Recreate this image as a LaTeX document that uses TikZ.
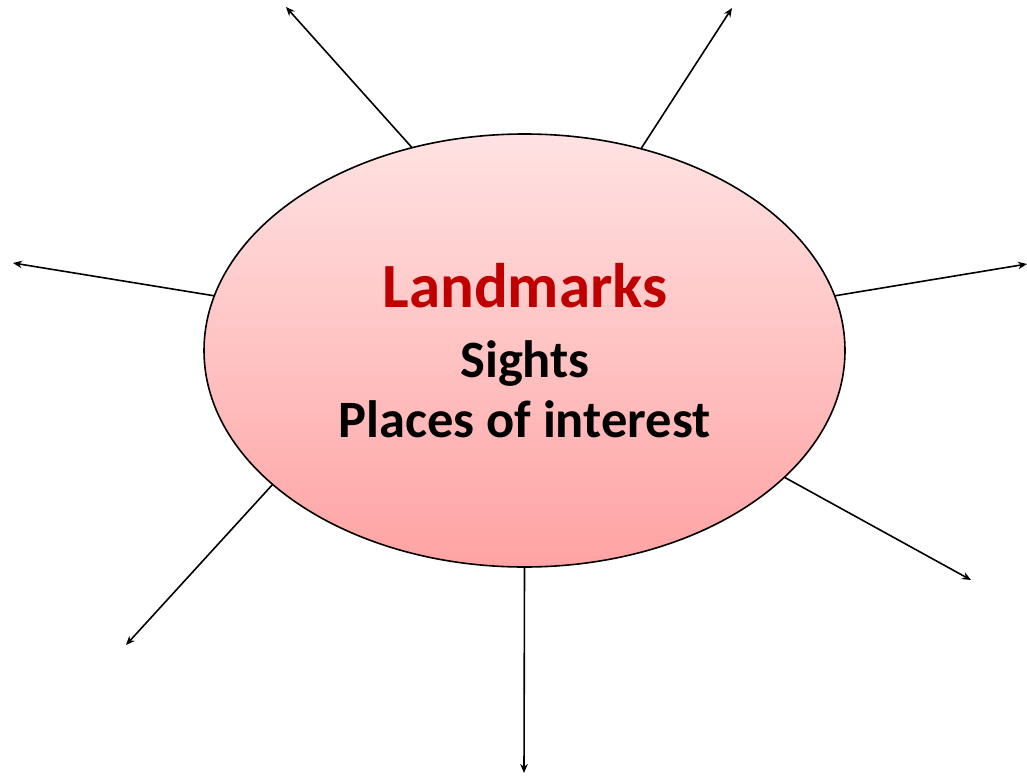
\documentclass[tikz,border=0pt]{standalone}
\usepackage{fontspec}
\setmainfont{Carlito}
\usetikzlibrary{shapes.geometric,arrows.meta}
\definecolor{lmred}{RGB}{192,0,0}
\definecolor{ptop}{RGB}{255,226,226}
\definecolor{pbot}{RGB}{255,163,163}
\tikzset{
  blob/.style={ellipse,draw=black,line width=1.6pt,top color=ptop,bottom color=pbot,minimum width=641pt,minimum height=433pt,inner sep=0pt,outer sep=0pt},
  ray/.style={line width=1.6pt,-{Stealth[length=9pt,width=7.5pt]}},
  lbl/.style={anchor=base,font=\bfseries,inner sep=0pt}
}
\begin{document}
\begin{tikzpicture}[x=1pt,y=-1pt]
\useasboundingbox (0,0) rectangle (1027,776);
\node[blob] (E) at (524.5,350.5) {};
\node[lbl,text=lmred,font=\bfseries\fontsize{63}{63}\selectfont] (t1) at (525,307) {Landmarks};
\node[lbl,font=\bfseries\fontsize{52.5}{52.5}\selectfont] (t2) at (525,377) {Sights};
\node[lbl,font=\bfseries\fontsize{52.5}{52.5}\selectfont] (t3) at (524.5,437) {Places of interest};
\coordinate (a1) at (286,7);
\coordinate (a2) at (732,8);
\coordinate (a3) at (13,263);
\coordinate (a4) at (1027,264);
\coordinate (a5) at (126,645);
\coordinate (a6) at (524,773);
\coordinate (a7) at (971,580);
\draw[ray] (E.119.2) -- (a1);
\draw[ray] (E.60.6) -- (a2);
\draw[ray] (E.170) -- (a3);
\draw[ray] (E.10) -- (a4);
\draw[ray] (E.208.1) -- (a5);
\draw[ray] (E.270) -- (a6);
\draw[ray] (E.334.7) -- (a7);
\end{tikzpicture}
\end{document}
